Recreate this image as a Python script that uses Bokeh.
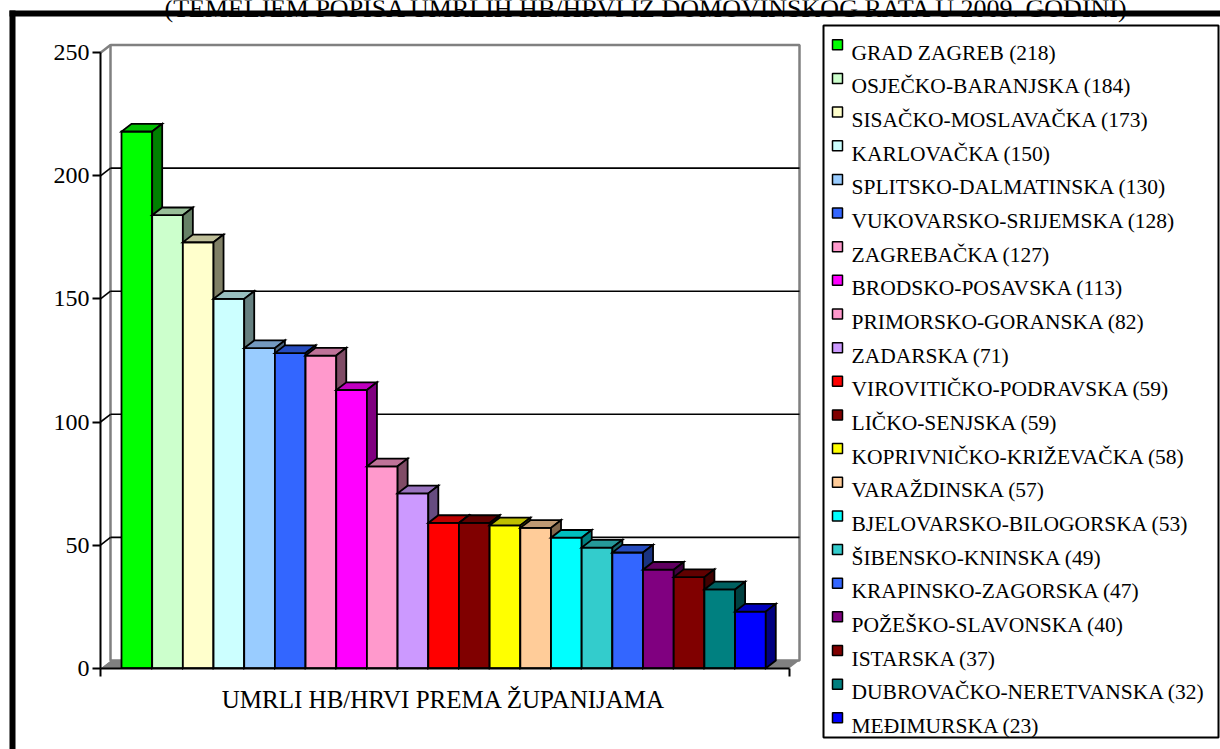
from bokeh.plotting import figure
from bokeh.models import Range1d, LinearAxis, FixedTicker
from bokeh.core.properties import value
from bokeh.embed import file_html
from bokeh.resources import INLINE

# ---------------- data ----------------
TITLE = "(TEMELJEM POPISA UMRLIH HB/HRVI IZ DOMOVINSKOG RATA U 2009. GODINI)"
CATEGORY = "UMRLI HB/HRVI PREMA ŽUPANIJAMA"
counties = [
    "GRAD ZAGREB", "OSJEČKO-BARANJSKA", "SISAČKO-MOSLAVAČKA", "KARLOVAČKA",
    "SPLITSKO-DALMATINSKA", "VUKOVARSKO-SRIJEMSKA", "ZAGREBAČKA", "BRODSKO-POSAVSKA",
    "PRIMORSKO-GORANSKA", "ZADARSKA", "VIROVITIČKO-PODRAVSKA", "LIČKO-SENJSKA",
    "KOPRIVNIČKO-KRIŽEVAČKA", "VARAŽDINSKA", "BJELOVARSKO-BILOGORSKA", "ŠIBENSKO-KNINSKA",
    "KRAPINSKO-ZAGORSKA", "POŽEŠKO-SLAVONSKA", "ISTARSKA", "DUBROVAČKO-NERETVANSKA",
    "MEĐIMURSKA",
]
deaths = [218, 184, 173, 150, 130, 128, 127, 113, 82, 71, 59, 59, 58, 57, 53, 49, 47, 40, 37, 32, 23]
colors = [
    "#00FF00", "#CCFFCC", "#FFFFCC", "#CCFFFF", "#99CCFF", "#3366FF", "#FF99CC", "#FF00FF",
    "#FF99CC", "#CC99FF", "#FF0000", "#800000", "#FFFF00", "#FFCC99", "#00FFFF", "#33CCCC",
    "#3366FF", "#800080", "#800000", "#008080", "#0000FF",
]
y_ticks = [0, 50, 100, 150, 200, 250]

# ---------------- layout (pixel geometry of the page) ----------------
W, H = 1220, 749
X0_PX, BAR_PX = 121.0, 30.68      # left edge of first bar, width of one bar
Y0_PX, UNIT_PX = 667.7, 2.462     # pixel row of value 0, pixels per unit


def X(px):
    return (px - X0_PX) / BAR_PX


def Y(py):
    return (Y0_PX - py) / UNIT_PX


DX = 10.0 / BAR_PX   # depth offset (category units)
DY = 7.7 / UNIT_PX   # depth offset (value units)
SERIF = value("Liberation Serif")


def shade(hexc, f):
    h = hexc.lstrip("#")
    r, g, b = (int(h[k:k + 2], 16) for k in (0, 2, 4))
    return "#%02x%02x%02x" % (round(r * f), round(g * f), round(b * f))


p = figure(width=W, height=H, x_range=Range1d(X(0), X(W)), y_range=Range1d(Y(H), Y(0)),
           output_backend="svg", toolbar_location=None, x_axis_type=None, y_axis_type=None,
           min_border=0, outline_line_color=None, background_fill_color="white",
           border_fill_color="white")

# outer frame (thick black top and left)
p.quad(left=[X(9)], right=[X(1225)], top=[Y(10)], bottom=[Y(16)], fill_color="black", line_color=None)
p.quad(left=[X(9)], right=[X(15)], top=[Y(10)], bottom=[Y(760)], fill_color="black", line_color=None)

# title (cut off at top like the reference)
p.text(x=[X(646.5)], y=[Y(8.3)], text=[TITLE], text_font=SERIF, text_font_size="26px",
       text_align="center", text_baseline="alphabetic", text_color="black")

# ---------------- 3-D walls ----------------
lx, rx, top = X(100), X(789), y_ticks[-1]
p.patch([lx, rx, rx + DX, lx + DX], [0, 0, DY, DY], fill_color="#808080", line_color=None)
p.patch([lx, lx + DX, lx + DX, lx], [0, DY, top + DY, top], fill_color="white", line_color=None)
p.patch([lx + DX, rx + DX, rx + DX, lx + DX], [DY, DY, top + DY, top + DY], fill_color="white",
        line_color="#808080", line_width=2.5)
p.segment(x0=[lx], y0=[top], x1=[lx + DX], y1=[top + DY], line_color="#808080", line_width=2.5)
grid = y_ticks[1:-1]
p.segment(x0=[lx + DX] * len(grid), y0=[t + DY for t in grid], x1=[rx + DX] * len(grid),
          y1=[t + DY for t in grid], line_color="black", line_width=1.6)
p.segment(x0=[lx] * len(grid), y0=grid, x1=[lx + DX] * len(grid), y1=[t + DY for t in grid],
          line_color="black", line_width=1.6)

# ---------------- 3-D bars ----------------
xs, ys, fills = [], [], []
for i, (v, c) in enumerate(zip(deaths, colors)):
    x0, x1 = i, i + 1
    xs.append([x0, x1, x1, x0]); ys.append([0, 0, v, v]); fills.append(c)
    xs.append([x0, x1, x1 + DX, x0 + DX]); ys.append([v, v, v + DY, v + DY]); fills.append(shade(c, 0.75))
    xs.append([x1, x1 + DX, x1 + DX, x1]); ys.append([0, DY, v + DY, v]); fills.append(shade(c, 0.5))
p.patches(xs, ys, fill_color=fills, line_color="black", line_width=1.8, line_join="miter")

# ---------------- axes ----------------
yax = LinearAxis(fixed_location=lx, bounds=(0, 250), ticker=FixedTicker(ticks=y_ticks),
                 axis_line_width=2, axis_line_color="black",
                 major_tick_out=8, major_tick_in=0, major_tick_line_width=2,
                 major_tick_line_color="black", minor_tick_out=0, minor_tick_in=0,
                 major_label_text_font="Liberation Serif", major_label_text_font_size="24px",
                 major_label_text_color="black", major_label_standoff=3)
p.add_layout(yax, "left")

cat_center = len(deaths) / 2
xax = LinearAxis(fixed_location=0, bounds=(lx, rx),
                 ticker=FixedTicker(ticks=[cat_center], minor_ticks=[lx, rx]),
                 axis_line_width=2, axis_line_color="black",
                 major_tick_out=0, major_tick_in=0,
                 minor_tick_out=8, minor_tick_in=0, minor_tick_line_width=2,
                 minor_tick_line_color="black",
                 major_label_overrides={cat_center: CATEGORY},
                 major_label_text_font="Liberation Serif", major_label_text_font_size="25px",
                 major_label_text_color="black", major_label_standoff=10)
p.add_layout(xax, "below")

# ---------------- legend ----------------
p.quad(left=[X(823)], right=[X(1218)], top=[Y(25)], bottom=[Y(737)], fill_color="white",
       line_color="black", line_width=2)
row_y = [45.3 + 33.65 * i for i in range(len(counties))]
p.quad(left=[X(832)] * len(row_y), right=[X(842)] * len(row_y),
       top=[Y(r - 6) for r in row_y], bottom=[Y(r + 4) for r in row_y],
       fill_color=colors, line_color="black", line_width=1.5)
labels = [f"{n} ({v})" for n, v in zip(counties, deaths)]
p.text(x=[X(851)] * len(row_y), y=[Y(r + 7) for r in row_y], text=labels, text_font=SERIF,
       text_font_size="21.5px", text_align="left", text_baseline="alphabetic", text_color="black")

open("out.html", "w").write(file_html(p, INLINE))
